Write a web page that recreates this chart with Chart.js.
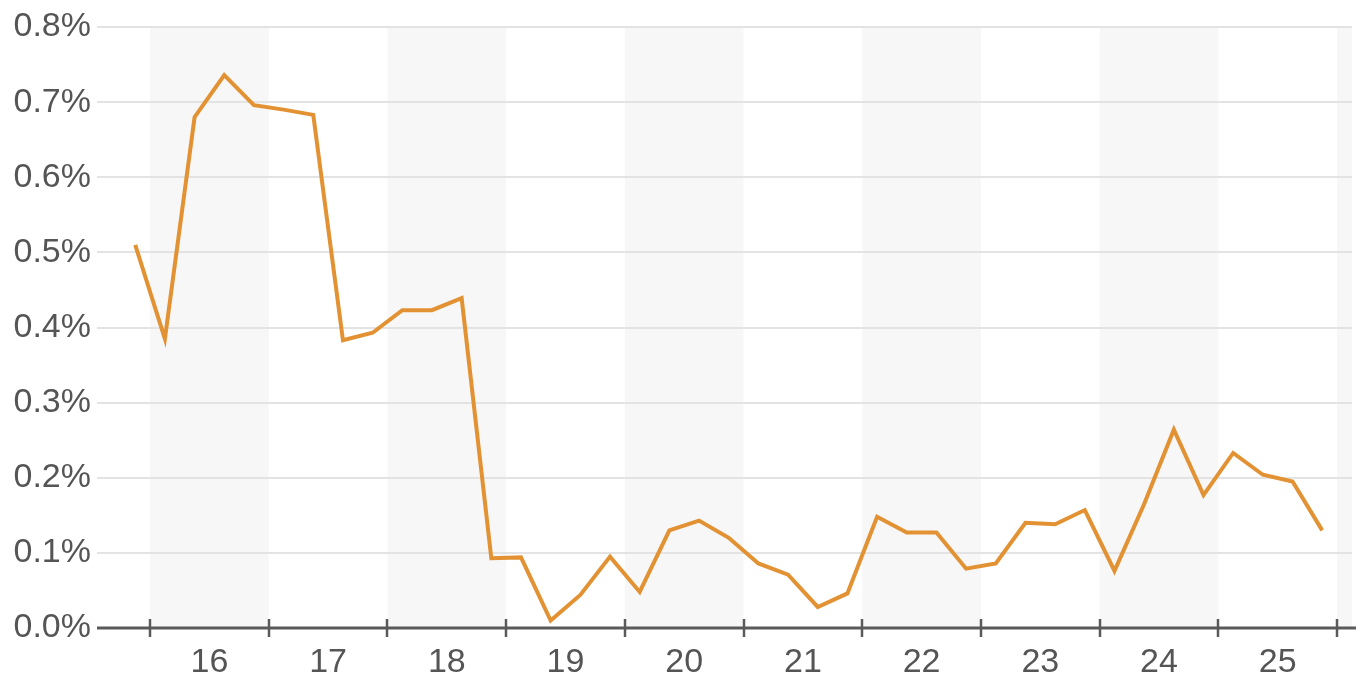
<!DOCTYPE html>
<html>
<head>
<meta charset="utf-8">
<script src="https://cdn.jsdelivr.net/npm/chart.js@4/dist/chart.umd.min.js"></script>
<style>
  html, body { margin: 0; padding: 0; background: #fff; }
  #wrap { width: 1367px; height: 679px; }
</style>
</head>
<body>
<div id="wrap"><canvas id="rate-chart"></canvas></div>
<script>
// quarters, 2015 Q4 .. 2025 Q4
const quarters = [
  '15Q4',
  '16Q1', '16Q2', '16Q3', '16Q4',
  '17Q1', '17Q2', '17Q3', '17Q4',
  '18Q1', '18Q2', '18Q3', '18Q4',
  '19Q1', '19Q2', '19Q3', '19Q4',
  '20Q1', '20Q2', '20Q3', '20Q4',
  '21Q1', '21Q2', '21Q3', '21Q4',
  '22Q1', '22Q2', '22Q3', '22Q4',
  '23Q1', '23Q2', '23Q3', '23Q4',
  '24Q1', '24Q2', '24Q3', '24Q4',
  '25Q1', '25Q2', '25Q3', '25Q4'
];
const rates = [
  0.51,
  0.385, 0.68, 0.736, 0.696,
  0.690, 0.683, 0.383, 0.393,
  0.423, 0.423, 0.439, 0.093,
  0.094, 0.010, 0.044, 0.095,
  0.048, 0.130, 0.143, 0.120,
  0.086, 0.071, 0.028, 0.046,
  0.148, 0.127, 0.127, 0.079,
  0.086, 0.140, 0.138, 0.157,
  0.076, 0.165, 0.264, 0.177,
  0.233, 0.204, 0.195, 0.130
];
const yearLabels = ['16', '17', '18', '19', '20', '21', '22', '23', '24', '25'];
const shadedYears = ['16', '18', '20', '22', '24', '26'];
const yTicks = [0, 0.1, 0.2, 0.3, 0.4, 0.5, 0.6, 0.7, 0.8];

function quarterToX(q) {
    const year = 2000 + parseInt(q.slice(0, 2));
    const n = parseInt(q.slice(3));
    return year + (n - 0.5) / 4;
}

const points = quarters.map((q, i) => ({ x: quarterToX(q), y: rates[i] }));

const yearBands = {
    id: 'yearBands',
    beforeDraw(chart) {
        const { ctx, chartArea, scales } = chart;
        ctx.save();
        ctx.fillStyle = '#f7f7f7';
        shadedYears.forEach(y => {
            const start = 2000 + parseInt(y);
            let x1 = scales.x.getPixelForValue(start);
            let x2 = scales.x.getPixelForValue(start + 1);
            x1 = Math.max(x1, chartArea.left);
            x2 = Math.min(x2, chartArea.right);
            if (x2 > x1) ctx.fillRect(x1, chartArea.top, x2 - x1, chartArea.bottom - chartArea.top);
        });
        ctx.restore();
    },
    afterDraw(chart) {
        const { ctx, chartArea, scales } = chart;
        ctx.save();
        ctx.strokeStyle = '#5a5a5a';
        ctx.lineWidth = 3;
        ctx.beginPath();
        ctx.moveTo(chartArea.left, chartArea.bottom);
        ctx.lineTo(chartArea.right + 4, chartArea.bottom);
        ctx.stroke();
        ctx.lineWidth = 2.5;
        for (let yr = 2016; yr <= 2026; yr++) {
            const px = Math.round(scales.x.getPixelForValue(yr));
            ctx.beginPath();
            ctx.moveTo(px, chartArea.bottom - 9);
            ctx.lineTo(px, chartArea.bottom + 9);
            ctx.stroke();
        }
        ctx.restore();
    }
};

const ctx = document.getElementById('rate-chart').getContext('2d');
const chart = new Chart(ctx, {
    type: 'line',
    data: {
        datasets: [{
            label: 'Rate',
            data: points,
            borderColor: '#e39233',
            borderWidth: 4,
            pointRadius: 0,
            tension: 0,
            fill: false
        }]
    },
    options: {
        responsive: true,
        maintainAspectRatio: false,
        animation: false,
        layout: { padding: { top: 27, right: 15, left: 0, bottom: 0 } },
        plugins: {
            legend: { display: false },
            tooltip: { enabled: false }
        },
        scales: {
            x: {
                type: 'linear',
                min: 2015.553,
                max: 2026.126,
                afterBuildTicks(scale) {
                    scale.ticks = yearLabels.map(l => ({ value: 2000 + parseInt(l) + 0.5 }));
                },
                afterFit(scale) { scale.height = 51; },
                grid: { display: false },
                border: { display: false },
                ticks: {
                    color: '#555',
                    font: { family: 'Liberation Sans', size: 34 },
                    padding: 6,
                    maxRotation: 0,
                    autoSkip: false,
                    callback: v => String(Math.round(v - 0.5) - 2000)
                }
            },
            y: {
                min: 0,
                max: 0.8,
                afterBuildTicks(scale) {
                    scale.ticks = yTicks.map(v => ({ value: v }));
                },
                afterFit(scale) { scale.width = 97; },
                grid: { color: '#e3e3e3', lineWidth: 2, drawTicks: false },
                border: { display: false },
                ticks: {
                    color: '#555',
                    font: { family: 'Liberation Sans', size: 34 },
                    padding: 6,
                    callback: v => v.toFixed(1) + '%'
                }
            }
        }
    },
    plugins: [yearBands]
});
</script>
</body>
</html>
